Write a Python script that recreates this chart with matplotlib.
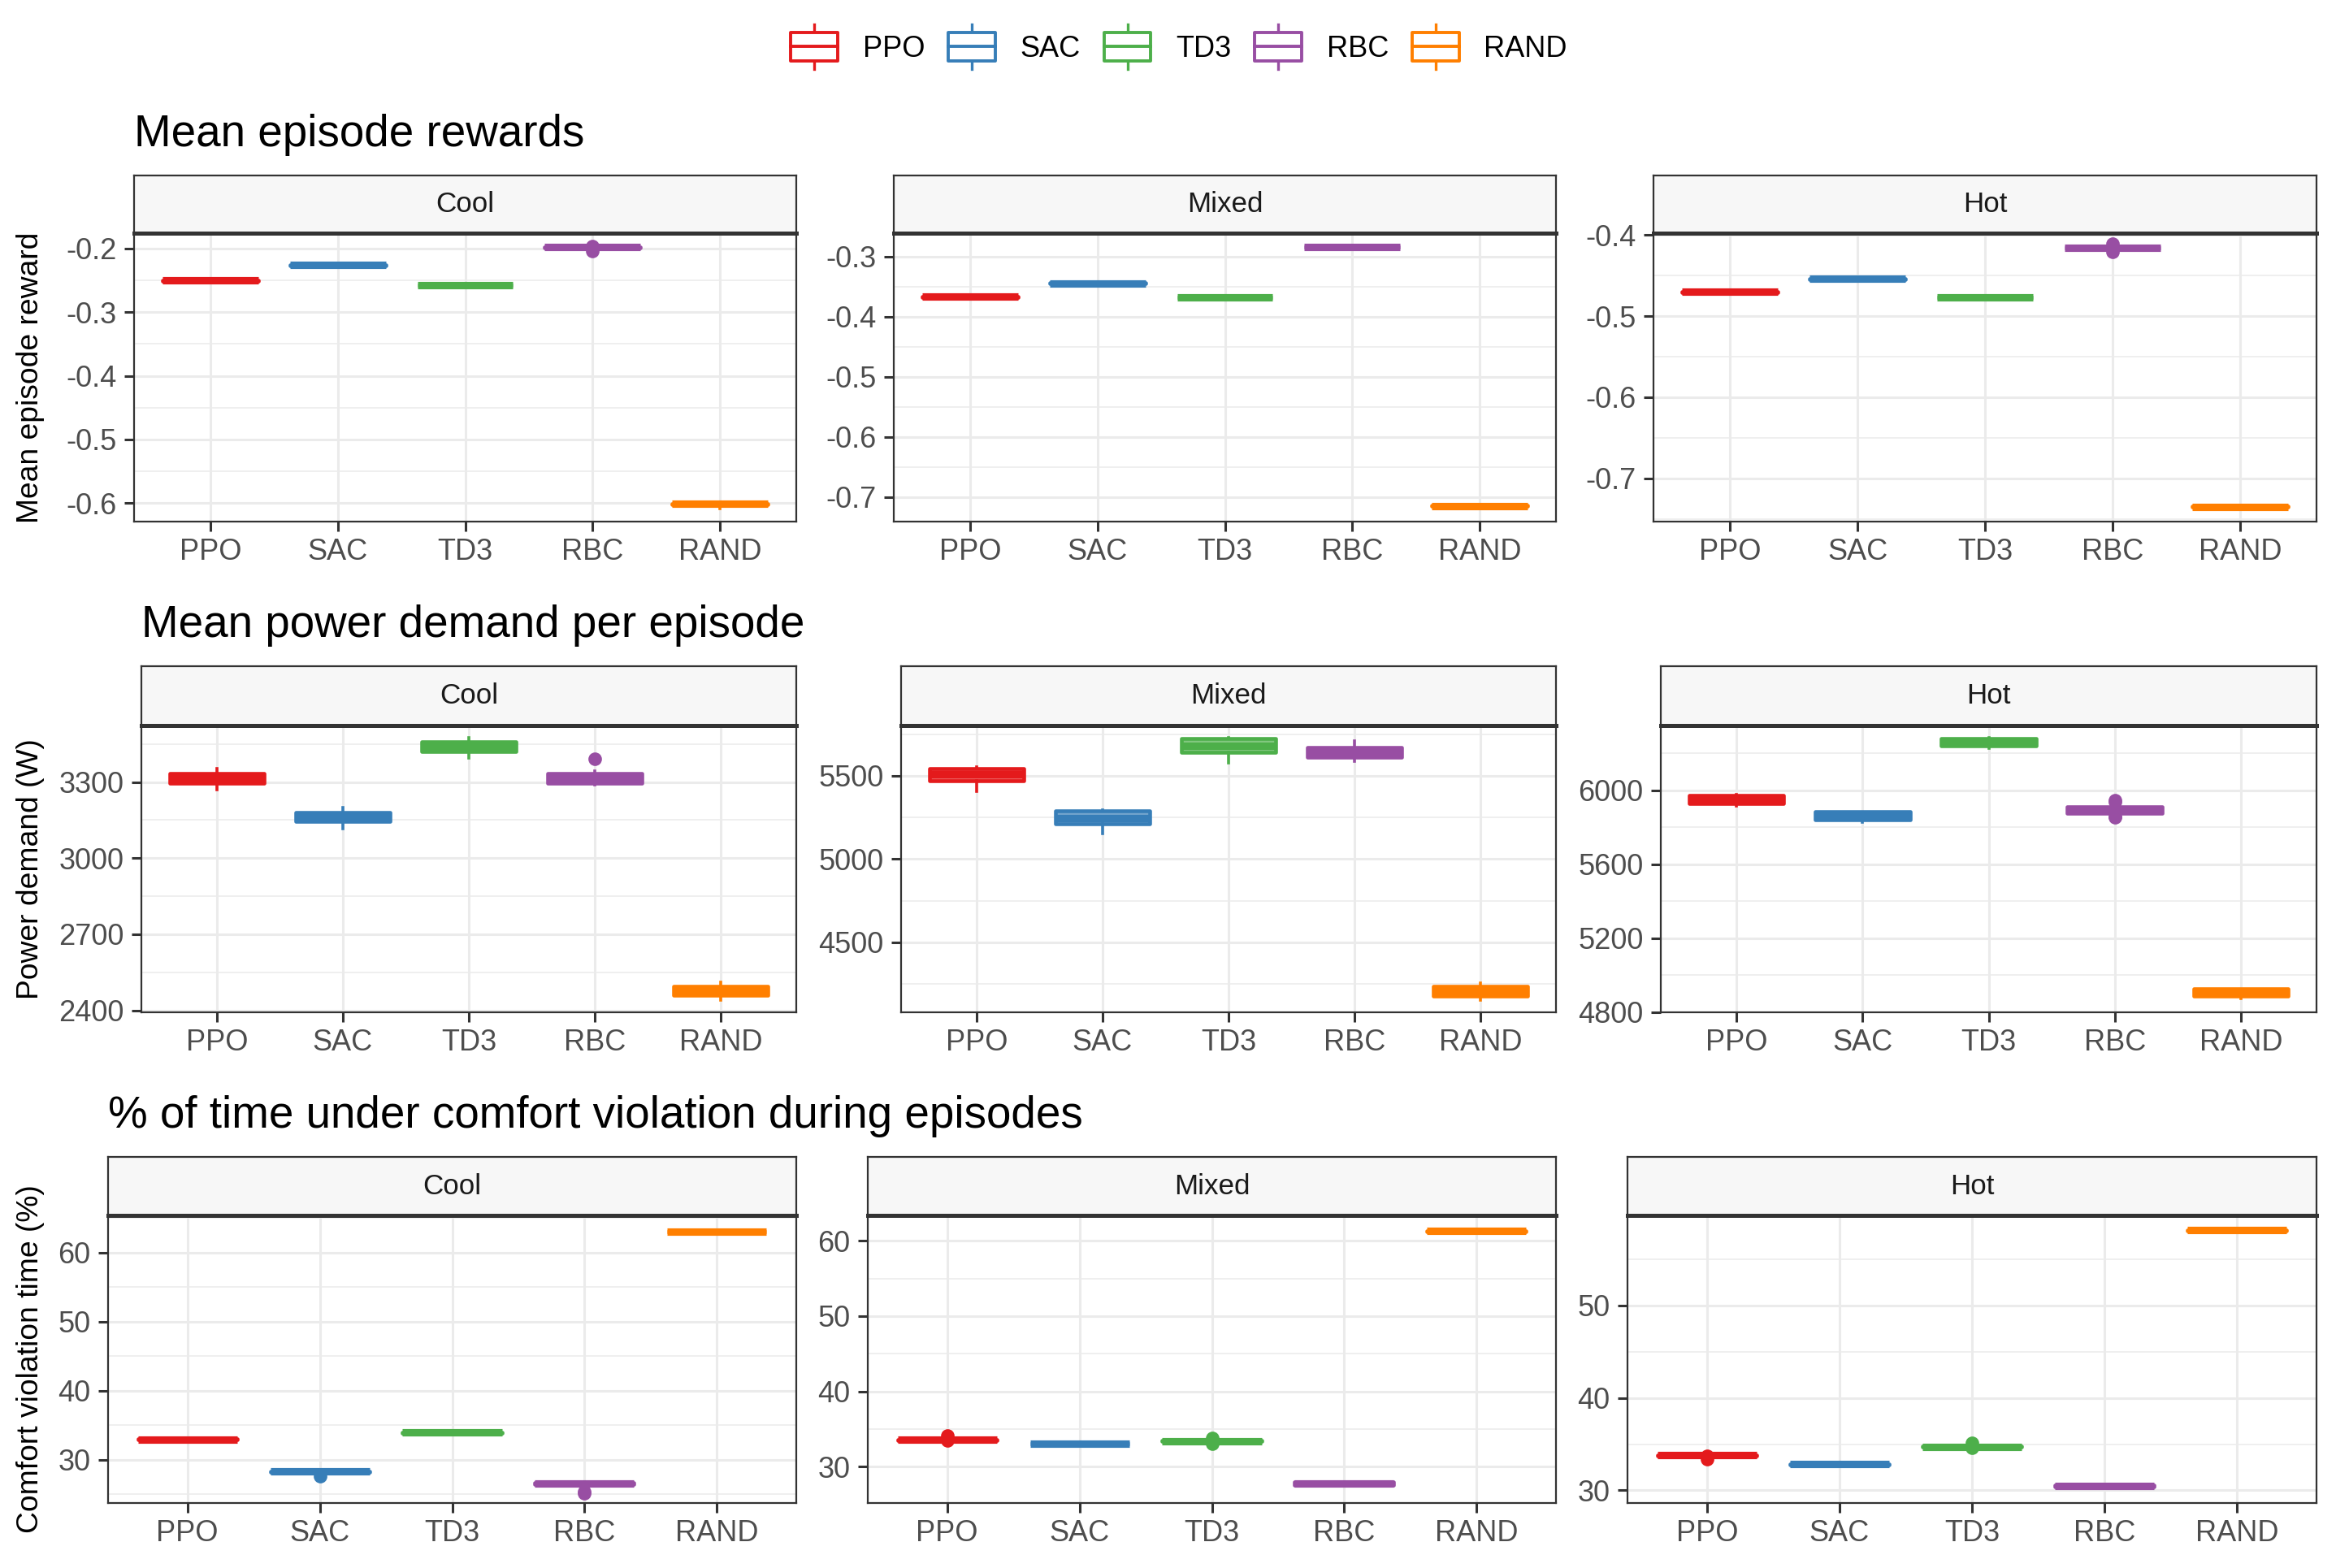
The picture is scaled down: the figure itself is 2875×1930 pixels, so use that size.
import numpy as np
import matplotlib
matplotlib.use("Agg")
import matplotlib.pyplot as plt
from matplotlib.colors import to_rgb
from matplotlib.patches import Rectangle, Patch
from matplotlib.lines import Line2D
from matplotlib.legend_handler import HandlerBase

plt.rcParams["font.family"] = ["Liberation Sans", "DejaVu Sans"]

agents = ["PPO", "SAC", "TD3", "RBC", "RAND"]
climates = ["Cool", "Mixed", "Hot"]
colors = ["#E41A1C", "#377EB8", "#4DAF4A", "#984EA3", "#FF7F00"]

# box stats per agent: (whisker low, q1, median, q3, whisker high)
reward_cool = [(-0.2512, -0.2509, -0.2506, -0.2503, -0.2500),
               (-0.2270, -0.2267, -0.2264, -0.2261, -0.2258),
               (-0.2585, -0.2582, -0.2579, -0.2576, -0.2573),
               (-0.1990, -0.1987, -0.1983, -0.1979, -0.1975),
               (-0.6080, -0.6018, -0.6013, -0.6008, -0.6000)]
reward_mixed = [(-0.3677, -0.3674, -0.3671, -0.3668, -0.3665),
                (-0.3452, -0.3449, -0.3446, -0.3443, -0.3440),
                (-0.3682, -0.3679, -0.3676, -0.3673, -0.3670),
                (-0.2850, -0.2846, -0.2842, -0.2838, -0.2831),
                (-0.7187, -0.7149, -0.7144, -0.7139, -0.7135)]
reward_hot = [(-0.4708, -0.4705, -0.4702, -0.4699, -0.4696),
              (-0.4548, -0.4545, -0.4542, -0.4539, -0.4536),
              (-0.4775, -0.4772, -0.4769, -0.4766, -0.4763),
              (-0.4165, -0.4161, -0.4157, -0.4153, -0.4149),
              (-0.7360, -0.7355, -0.7351, -0.7347, -0.7342)]
reward_out = [{3: [-0.1968, -0.2040]}, {}, {3: [-0.4105, -0.4210]}]

power_cool = [(3270, 3297, 3316, 3334, 3353),
              (3116, 3144, 3163, 3181, 3199),
              (3396, 3420, 3440, 3460, 3476),
              (3288, 3294, 3314, 3334, 3345),
              (2441, 2459, 2476, 2493, 2509)]
power_mixed = [(5406, 5468, 5507, 5545, 5555),
               (5154, 5213, 5245, 5289, 5295),
               (5578, 5643, 5679, 5722, 5730),
               (5588, 5612, 5640, 5669, 5711),
               (4152, 4178, 4207, 4237, 4254)]
power_hot = [(5915, 5929, 5951, 5974, 5975),
             (5829, 5841, 5861, 5882, 5884),
             (6227, 6240, 6261, 6281, 6286),
             (5870, 5875, 5893, 5911, 5915),
             (4871, 4885, 4905, 4924, 4926)]
power_out = [{3: [3393]}, {}, {3: [5944, 5936, 5858, 5852]}]

comfort_cool = [(32.90, 32.93, 32.98, 33.03, 33.06),
                (28.20, 28.24, 28.29, 28.34, 28.38),
                (33.87, 33.90, 33.95, 34.00, 34.03),
                (26.40, 26.45, 26.55, 26.65, 26.70),
                (62.95, 62.98, 63.02, 63.06, 63.10)]
comfort_mixed = [(33.52, 33.55, 33.60, 33.65, 33.70),
                 (33.00, 33.03, 33.07, 33.11, 33.15),
                 (33.30, 33.36, 33.41, 33.46, 33.52),
                 (27.45, 27.55, 27.75, 27.95, 28.00),
                 (61.20, 61.23, 61.27, 61.31, 61.35)]
comfort_hot = [(33.70, 33.75, 33.80, 33.85, 33.90),
               (32.75, 32.79, 32.83, 32.87, 32.90),
               (34.65, 34.69, 34.73, 34.77, 34.80),
               (30.38, 30.42, 30.48, 30.55, 30.60),
               (58.07, 58.10, 58.14, 58.18, 58.20)]
comfort_out = [{1: [27.65], 3: [25.45, 25.2]}, {0: [34.15, 33.45], 2: [33.8, 33.08]},
               {0: [33.72, 33.35], 2: [35.12, 34.61]}]

# y axis per panel: limits and major ticks
reward_ylim = [(-0.629, -0.176), (-0.7405, -0.2613), (-0.7535, -0.3977)]
reward_ticks = [[-0.6, -0.5, -0.4, -0.3, -0.2], [-0.7, -0.6, -0.5, -0.4, -0.3], [-0.7, -0.6, -0.5, -0.4]]
power_ylim = [(2392, 3523), (4080, 5802), (4798, 6350)]
power_ticks = [[2400, 2700, 3000, 3300], [4500, 5000, 5500], [4800, 5200, 5600, 6000]]
comfort_ylim = [(23.76, 65.36), (25.2, 63.37), (28.63, 59.75)]
comfort_ticks = [[30, 40, 50, 60], [30, 40, 50, 60], [30, 40, 50]]

W, H, DPI = 2875, 1930, 200
GRID = "#EBEBEB"
DARK = "#333333"


def tint(c, amount):
    r = np.array(to_rgb(c))
    return tuple(r * amount + (1 - amount))


class BoxKey(HandlerBase):
    # legend glyph like ggplot's boxplot key
    def create_artists(self, legend, orig_handle, xdescent, ydescent, width, height, fontsize, trans):
        c = orig_handle.get_edgecolor()
        x0, y0 = -xdescent, -ydescent
        xm = x0 + width / 2
        ext = height * 0.3
        box = Rectangle((x0, y0), width, height, facecolor="white", edgecolor=c,
                        linewidth=1.4, joinstyle="round", transform=trans)
        med = Line2D([x0, x0 + width], [y0 + height / 2] * 2, color=c, lw=1.4, transform=trans)
        up = Line2D([xm, xm], [y0 + height, y0 + height + ext], color=c, lw=1.2, transform=trans)
        dn = Line2D([xm, xm], [y0 - ext, y0], color=c, lw=1.2, transform=trans)
        return [up, dn, box, med]


def px_axes(fig, left, right, top, bottom):
    return fig.add_axes([left / W, 1 - bottom / H, (right - left) / W, (bottom - top) / H])


def draw_panel(ax, stats, outliers, ylim, ticks, fmt):
    for i, (lo, q1, med, q3, hi) in enumerate(stats):
        c = colors[i]
        st = dict(whislo=lo, q1=q1, med=med, q3=q3, whishi=hi, fliers=outliers.get(i, []))
        ax.bxp([st], positions=[i + 1], widths=0.75, patch_artist=True, showcaps=False,
               boxprops=dict(facecolor=tint(c, 0.7), edgecolor=c, linewidth=1.65, joinstyle="round"),
               medianprops=dict(color=c, linewidth=3.3, solid_capstyle="butt"),
               whiskerprops=dict(color=c, linewidth=1.3),
               flierprops=dict(marker="o", markerfacecolor=c, markeredgecolor=c, markersize=5),
               zorder=3)
    step = ticks[1] - ticks[0]
    minor = np.arange(ticks[0] - step / 2, ticks[-1] + step, step)
    ax.set_yticks(ticks, [fmt.format(t) for t in ticks])
    ax.set_yticks(minor, minor=True)
    # set limits after the ticks, set_yticks may widen the view
    ax.set_ylim(*ylim)
    ax.set_xticks(range(1, 6), agents)
    ax.set_xlim(0.4, 5.6)
    ax.set_axisbelow(True)
    ax.grid(which="major", color=GRID, lw=1.1)
    ax.grid(which="minor", axis="y", color=GRID, lw=0.55)
    ax.tick_params(which="major", direction="out", length=4.3, width=1.1, color=DARK,
                   labelcolor="#4D4D4D", labelsize=13)
    ax.tick_params(axis="x", pad=3.0)
    ax.tick_params(axis="y", pad=3.4)
    ax.tick_params(which="minor", length=0)
    for s in ax.spines.values():
        s.set_color(DARK)
        s.set_linewidth(0.8)


def draw_strip(fig, left, right, top, bottom, label):
    sa = px_axes(fig, left, right, top, bottom)
    sa.set_facecolor("#F7F7F7")
    sa.set_xticks([])
    sa.set_yticks([])
    for s in sa.spines.values():
        s.set_color(DARK)
        s.set_linewidth(0.8)
    sa.spines["bottom"].set_linewidth(1.8)
    sa.text(0.5, 0.5, label, ha="center", va="center", fontsize=12.6, color="#1A1A1A",
            transform=sa.transAxes)


rows = [
    dict(title="Mean episode rewards", ylabel="Mean episode reward",
         stats=[reward_cool, reward_mixed, reward_hot], out=reward_out,
         ylim=reward_ylim, ticks=reward_ticks, fmt="{:.1f}",
         strip=216, top=287, bottom=642, lefts=[165, 1100, 2035]),
    dict(title="Mean power demand per episode", ylabel="Power demand (W)",
         stats=[power_cool, power_mixed, power_hot], out=power_out,
         ylim=power_ylim, ticks=power_ticks, fmt="{:.0f}",
         strip=820, top=893, bottom=1246, lefts=[174, 1109, 2044]),
    dict(title="% of time under comfort violation during episodes", ylabel="Comfort violation time (%)",
         stats=[comfort_cool, comfort_mixed, comfort_hot], out=comfort_out,
         ylim=comfort_ylim, ticks=comfort_ticks, fmt="{:.0f}",
         strip=1424, top=1496, bottom=1850, lefts=[133, 1068, 2003]),
]
rights = [980, 1915, 2851]

fig = plt.figure(figsize=(W / DPI, H / DPI), dpi=DPI)

for row in rows:
    for k, clim in enumerate(climates):
        left, right = row["lefts"][k], rights[k]
        ax = px_axes(fig, left, right, row["top"], row["bottom"])
        draw_panel(ax, row["stats"][k], row["out"][k], row["ylim"][k], row["ticks"][k], row["fmt"])
        draw_strip(fig, left, right, row["strip"], row["top"], clim)
    fig.text(row["lefts"][0] / W, 1 - (row["strip"] - 36) / H, row["title"],
             fontsize=19.7, color="black", va="baseline", ha="left")
    fig.text(38 / W, 1 - (row["top"] + row["bottom"]) / 2 / H, row["ylabel"],
             rotation=90, fontsize=13.4, color="black", va="center", ha="center")

handles = [Patch(edgecolor=c, facecolor="white") for c in colors]
fig.legend(handles, agents, handler_map={Patch: BoxKey()}, loc="center",
           bbox_to_anchor=(1451 / W, 1 - 59 / H), ncol=5, frameon=False, fontsize=13,
           handlelength=1.6, handleheight=1.08, handletextpad=0.85, columnspacing=0.8)

fig.savefig("out.png", dpi=DPI)
